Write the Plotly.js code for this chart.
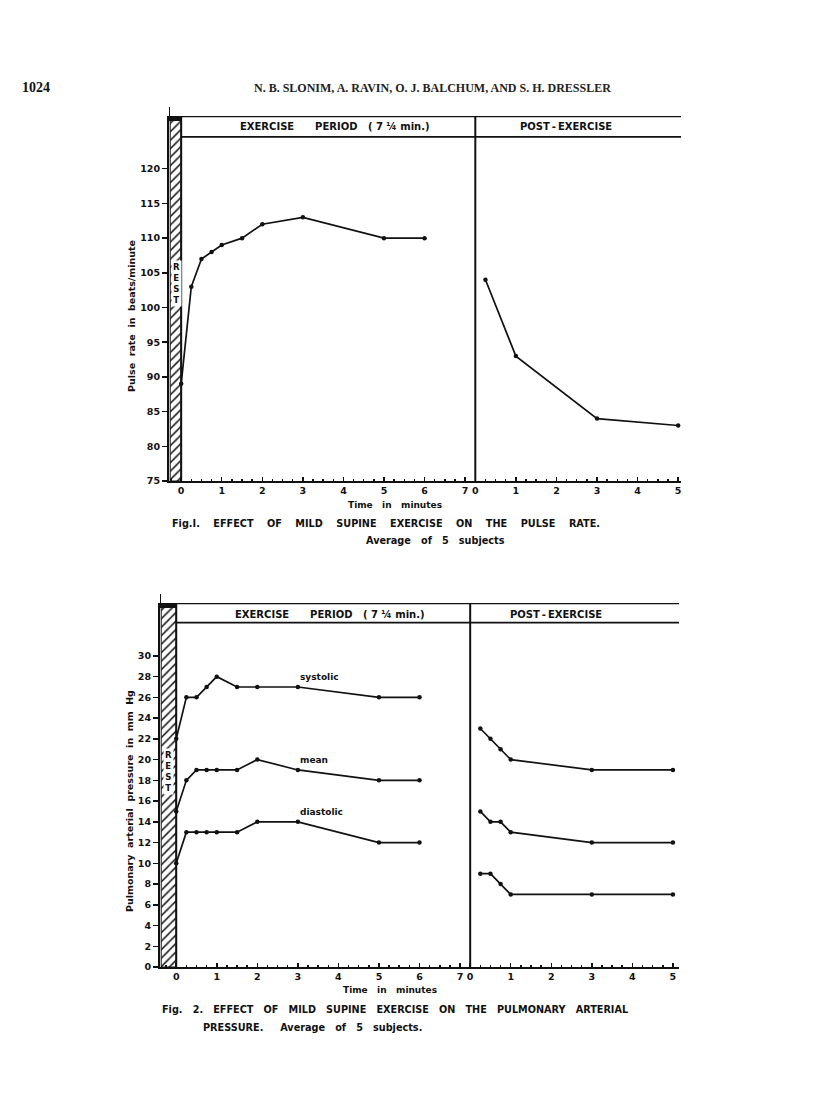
<!DOCTYPE html>
<html>
<head>
<meta charset="utf-8">
<script src="https://cdn.plot.ly/plotly-3.0.1.min.js"></script>
<style>
  html, body { margin: 0; padding: 0; background: #ffffff; }
  #grafico { width: 816px; height: 1109px; }
</style>
</head>
<body>
<div id="grafico"></div>
<script>
// --- datos ---
const exercisePeriod = 7.25;           // 7 1/4 min, donde empieza el post-ejercicio

// Fig. 1 - pulso
const exTime1 = [0, 0.25, 0.5, 0.75, 1, 1.5, 2, 3, 5, 6];
const exPulse = [89, 103, 107, 108, 109, 110, 112, 113, 110, 110];
const postTime1 = [0.25, 1, 3, 5];
const postPulse = [104, 93, 84, 83];
const yTicks1 = [75, 80, 85, 90, 95, 100, 105, 110, 115, 120];

// Fig. 2 - presion arterial pulmonar
const exTime2 = [0, 0.25, 0.5, 0.75, 1, 1.5, 2, 3, 5, 6];
const exSystolic = [22, 26, 26, 27, 28, 27, 27, 27, 26, 26];
const exMean = [15, 18, 19, 19, 19, 19, 20, 19, 18, 18];
const exDiastolic = [10, 13, 13, 13, 13, 13, 14, 14, 12, 12];
const postTime2 = [0.25, 0.5, 0.75, 1, 3, 5];
const postSystolic = [23, 22, 21, 20, 19, 19];
const postMean = [15, 14, 14, 13, 12, 12];
const postDiastolic = [9, 9, 8, 7, 7, 7];
const yTicks2 = [0, 2, 4, 6, 8, 10, 12, 14, 16, 18, 20, 22, 24, 26, 28, 30];
const seriesNames2 = ['systolic', 'mean', 'diastolic'];

const exTickLabels = ['0', '1', '2', '3', '4', '5', '6', '7'];
const postTickLabels = ['0', '1', '2', '3', '4', '5'];

// --- utilidades ---
const W = 816, H = 1109;
const px = (x) => x / W;
const py = (y) => 1 - y / H;
const INK = '#111111';
const SANS = '"DejaVu Sans", Verdana, sans-serif';
const SERIF = '"Liberation Serif", "Times New Roman", serif';
const NB = '\u00a0';
const sp = (s, n) => s.replace(/ /g, NB.repeat(n || 3));

const tickVals = exTickLabels.map((t, i) => i).concat(postTickLabels.map((t, i) => exercisePeriod + i));
const tickText = exTickLabels.concat(postTickLabels);

function linea(x, y) {
    return { x: x, y: y, type: 'scatter', mode: 'lines+markers',
        line: { color: INK, width: 1.7 },
        marker: { color: INK, size: 4.5 },
        hoverinfo: 'skip', showlegend: false };
}

function barraReposo(x0, yBottom, yTop, xa, ya) {
    return { x: [x0, 0, 0, x0, x0], y: [yBottom, yBottom, yTop, yTop, yBottom],
        xaxis: xa, yaxis: ya, type: 'scatter', mode: 'lines', fill: 'toself',
        fillcolor: 'white',
        fillpattern: { shape: '/', fgcolor: INK, bgcolor: 'white', size: 6, solidity: 0.25 },
        line: { color: INK, width: 1 }, hoverinfo: 'skip', showlegend: false };
}

// rangos
const r1x = [-0.3, 12.32], r1y = [75, 127.6], head1 = 124.6;
const r2x = [-0.4, 12.4], r2y = [0, 35.1], head2 = 33.2;

const trazas = [
    barraReposo(-0.27, r1y[0], r1y[1], 'x', 'y'),
    barraReposo(-0.37, r2y[0], r2y[1], 'x2', 'y2'),
    linea(exTime1, exPulse),
    linea(postTime1.map(t => t + exercisePeriod), postPulse),
];
[[exSystolic, postSystolic], [exMean, postMean], [exDiastolic, postDiastolic]].forEach(par => {
    const a = linea(exTime2, par[0]); a.xaxis = 'x2'; a.yaxis = 'y2';
    const b = linea(postTime2.map(t => t + exercisePeriod), par[1]); b.xaxis = 'x2'; b.yaxis = 'y2';
    trazas.push(a, b);
});

const ejeX = (dom, rango, anchor) => ({
    domain: dom, range: rango, anchor: anchor,
    tickmode: 'array', tickvals: tickVals, ticktext: tickText,
    ticks: 'inside', ticklen: 4, tickwidth: 1.5, tickcolor: INK,
    minor: { tickmode: 'linear', tick0: 0, dtick: 0.25, ticks: 'inside', ticklen: 2, tickcolor: INK },
    showline: true, linewidth: 2, linecolor: INK,
    showgrid: false, zeroline: false, fixedrange: true,
    tickfont: { family: SANS, size: 9.5, weight: 'bold', color: INK }
});
const ejeY = (dom, rango, vals, anchor) => ({
    domain: dom, range: rango, anchor: anchor,
    tickmode: 'array', tickvals: vals,
    ticks: 'outside', ticklen: 5, tickwidth: 1.5, tickcolor: INK,
    showline: true, linewidth: 2, linecolor: INK,
    showgrid: false, zeroline: false, fixedrange: true,
    tickfont: { family: SANS, size: 9.5, weight: 'bold', color: INK }
});

function marco(xr, yr, head, topPx, xa, ya) {
    const s = [];
    // linea vertical izquierda que sobresale
    s.push({ type: 'line', xref: xa, yref: 'paper', x0: xr[0], x1: xr[0], y0: py(topPx), y1: py(topPx - 9), line: { color: INK, width: 2 } });
    // borde derecho de la barra de reposo
    s.push({ type: 'line', xref: xa, yref: ya, x0: 0, x1: 0, y0: yr[0], y1: yr[1], line: { color: INK, width: 2 } });
    // separador ejercicio / post-ejercicio
    s.push({ type: 'line', xref: xa, yref: ya, x0: exercisePeriod, x1: exercisePeriod, y0: yr[0], y1: yr[1], line: { color: INK, width: 2 } });
    // lineas de la cabecera
    s.push({ type: 'line', xref: xa, yref: ya, x0: xr[0], x1: xr[1] + 0.05, y0: yr[1], y1: yr[1], line: { color: INK, width: 2.5 } });
    s.push({ type: 'line', xref: xa, yref: ya, x0: 0, x1: xr[1] + 0.05, y0: head, y1: head, line: { color: INK, width: 1.8 } });
    // bloque negro arriba de la barra
    s.push({ type: 'rect', xref: xa, yref: 'paper', x0: xr[0], x1: 0, y0: py(topPx + 5), y1: py(topPx), fillcolor: INK, line: { width: 0 } });
    return s;
}

const txt = (text, x, y, size, opts) => Object.assign({
    text: text, xref: 'paper', yref: 'paper', x: px(x), y: py(y),
    xanchor: 'center', yanchor: 'middle', showarrow: false,
    font: { family: SANS, size: size, weight: 'bold', color: INK }
}, opts || {});

const cabecera = 'EXERCISE' + NB.repeat(6) + 'PERIOD' + NB.repeat(3) + '(' + NB + '7' + NB + '¼' + NB + 'min.)';
const postCab = 'POST' + '\u2009-\u2009' + 'EXERCISE';

const anotaciones = [
    txt('1024', 20, 87, 14, { xanchor: 'left', font: { family: SERIF, size: 14, weight: 'bold', color: INK } }),
    txt('N. B. SLONIM, A. RAVIN, O. J. BALCHUM, AND S. H. DRESSLER', 432, 88, 12,
        { font: { family: SERIF, size: 12, weight: 'bold', color: '#222' } }),

    // fig 1
    txt(cabecera, 335, 127, 10),
    txt(postCab, 566, 127, 10),
    txt('R<br>E<br>S<br>T', 176, 283, 8.5, { bgcolor: 'white' }),
    txt(sp('Pulse rate in beats/minute', 2), 131, 316, 9.5, { textangle: -90 }),
    txt(sp('Time in minutes'), 395, 505, 9),
    txt(sp('Fig.I. EFFECT OF MILD SUPINE EXERCISE ON THE PULSE RATE.', 4), 170, 523, 9.7, { xanchor: 'left' }),
    txt(sp('Average of 5 subjects'), 435, 540, 9.7),

    // fig 2
    txt(cabecera, 330, 614, 10),
    txt(postCab, 556, 614, 10),
    txt('R<br>E<br>S<br>T', 168, 771, 8.5, { bgcolor: 'white' }),
    txt(sp('Pulmonary arterial pressure in mm Hg', 2), 129, 801, 9.5, { textangle: -90 }),
    txt(sp('Time in minutes'), 390, 990, 9),
    txt(sp('Fig. 2. EFFECT OF MILD SUPINE EXERCISE ON THE PULMONARY ARTERIAL'), 160, 1010, 9.7, { xanchor: 'left' }),
    txt('PRESSURE.' + NB.repeat(5) + sp('Average of 5 subjects.'), 201, 1027, 9.7, { xanchor: 'left' }),
];

// etiquetas de las series de la fig 2, a la altura del minuto 3
[exSystolic, exMean, exDiastolic].forEach((serie, i) => {
    const k = exTime2.indexOf(3);
    anotaciones.push({ text: seriesNames2[i], xref: 'x2', yref: 'y2', x: 3, y: serie[k],
        xanchor: 'left', yanchor: 'bottom', yshift: 3, showarrow: false,
        font: { family: SANS, size: 9, weight: 'bold', color: INK } });
});

const layout = {
    width: W, height: H,
    margin: { l: 0, r: 0, t: 0, b: 0 },
    paper_bgcolor: '#ffffff', plot_bgcolor: 'rgba(0,0,0,0)',
    showlegend: false,
    xaxis: ejeX([px(169), px(681)], r1x, 'y'),
    yaxis: ejeY([py(481), py(116)], r1y, yTicks1, 'x'),
    xaxis2: ejeX([px(160), px(679)], r2x, 'y2'),
    yaxis2: ejeY([py(967), py(603)], r2y, yTicks2, 'x2'),
    shapes: marco(r1x, r1y, head1, 116, 'x', 'y').concat(marco(r2x, r2y, head2, 603, 'x2', 'y2')),
    annotations: anotaciones
};

Plotly.newPlot('grafico', trazas, layout, { staticPlot: true, displayModeBar: false });
</script>
</body>
</html>
